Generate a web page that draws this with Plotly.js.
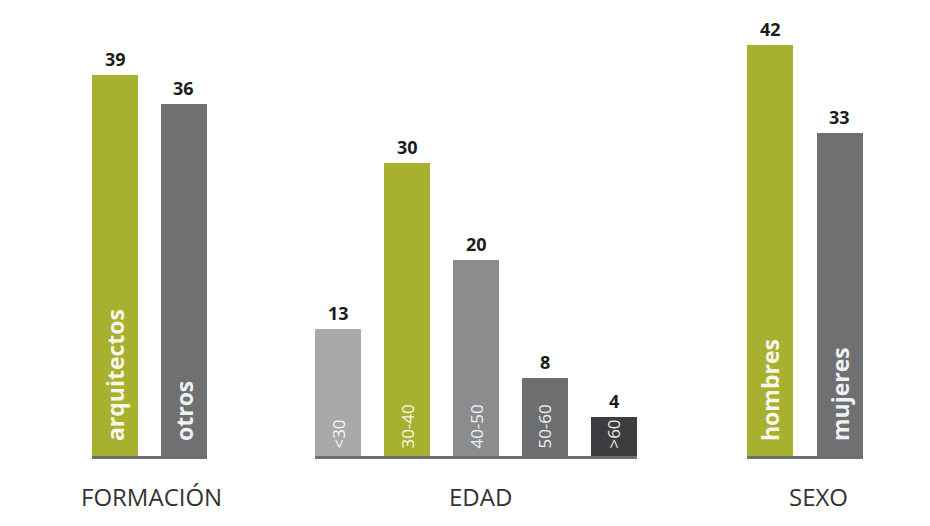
<!DOCTYPE html>
<html>
<head>
<meta charset="utf-8">
<script src="https://cdn.plot.ly/plotly-3.0.1.min.js"></script>
<style>
html,body{margin:0;padding:0;background:#fff;}
#chart{width:930px;height:526px;}
</style>
</head>
<body>
<div id="chart"></div>
<script>
// ---- data ----
const formacionCats = ["arquitectos", "otros"];
const formacionVals = [39, 36];
const edadCats = ["<30", "30-40", "40-50", "50-60", ">60"];
const edadVals = [13, 30, 20, 8, 4];
const sexoCats = ["hombres", "mujeres"];
const sexoVals = [42, 33];
const groupTitles = ["FORMACIÓN", "EDAD", "SEXO"];

// ---- styles ----
const OLIVE = "#a8b02f";
const formacionColors = [OLIVE, "#6e7072"];
const edadColors = ["#a7a9ab", OLIVE, "#8a8c8e", "#6c6e70", "#3c3d3f"];
const sexoColors = [OLIVE, "#6e7072"];
const W = 930;

function barTrace(cats, vals, colors, xa, fontSize, weight, pad) {
  return {
    type: "bar", x: cats, y: vals, xaxis: xa, yaxis: "y",
    width: 0.667,
    marker: {color: colors, line: {width: 0}},
    text: cats.map(c => pad + c), textposition: "inside", insidetextanchor: "start",
    textangle: -90, constraintext: "none",
    insidetextfont: {family: "Open Sans", size: fontSize, color: "rgba(255,255,255,0.92)", weight: weight},
    hoverinfo: "skip", showlegend: false
  };
}

const data = [
  barTrace(formacionCats, formacionVals, formacionColors, "x", 23, 700, "\u00a0\u00a0"),
  barTrace(edadCats, edadVals, edadColors, "x2", 17, 400, "\u00a0"),
  barTrace(sexoCats, sexoVals, sexoColors, "x3", 23, 700, "\u00a0\u00a0")
];

function xax(domPx, n) {
  return {
    domain: [domPx[0] / W, domPx[1] / W], anchor: "y",
    type: "category", range: [-0.3335, n - 1 + 0.3335],
    showline: true, linecolor: "#6d6e70", linewidth: 3,
    showticklabels: false, ticks: "", showgrid: false, zeroline: false,
    fixedrange: true
  };
}

function valueAnns(cats, vals, xa) {
  return cats.map((c, i) => ({
    text: String(vals[i]), xref: xa, yref: "y", x: c, y: vals[i],
    xanchor: "center", yanchor: "bottom", yshift: 2, showarrow: false,
    font: {family: "Open Sans", size: 18, color: "#1c1c1c", weight: 700}
  }));
}

const titleX = [151, 480, 818];
const titleAnns = groupTitles.map((t, i) => ({
  text: t, xref: "paper", yref: "paper", x: titleX[i] / W, y: 0,
  xanchor: "center", yanchor: "middle", yshift: -40, showarrow: false,
  font: {family: "Open Sans", size: 24, color: "#333333"}
}));

const layout = {
  width: 930, height: 526,
  margin: {l: 0, r: 0, t: 16, b: 70, pad: 0},
  paper_bgcolor: "#ffffff", plot_bgcolor: "#ffffff",
  bargap: 0,
  xaxis: xax([92, 207], formacionCats.length),
  xaxis2: xax([315, 637], edadCats.length),
  xaxis3: xax([747, 863], sexoCats.length),
  yaxis: {range: [0, 45], visible: false, fixedrange: true},
  annotations: titleAnns
    .concat(valueAnns(formacionCats, formacionVals, "x"))
    .concat(valueAnns(edadCats, edadVals, "x2"))
    .concat(valueAnns(sexoCats, sexoVals, "x3")),
  font: {family: "Open Sans"}
};

Plotly.newPlot("chart", data, layout, {displayModeBar: false, staticPlot: true});
</script>
</body>
</html>
